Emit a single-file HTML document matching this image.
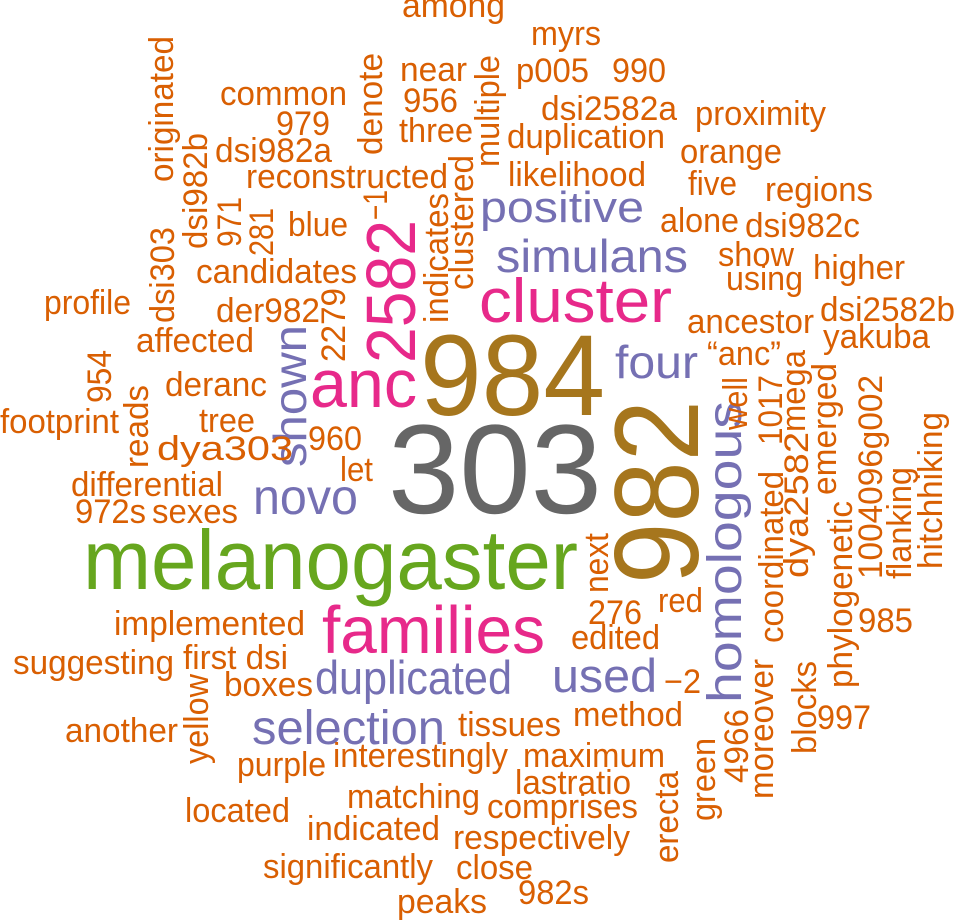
<!DOCTYPE html>
<html><head><meta charset="utf-8"><style>
html,body{margin:0;padding:0;background:#fff;}
svg{display:block;}
text{font-family:"Liberation Sans",Arial,sans-serif;}
.o{fill:#d95f02;font-size:34px;}
.p{fill:#7570b3;}
.k{fill:#e7298a;}
</style></head><body>
<svg width="955" height="922" viewBox="0 0 955 922" xmlns="http://www.w3.org/2000/svg">
<g lengthAdjust="spacingAndGlyphs">
<text x="388" y="513" font-size="127" fill="#666666" textLength="214" lengthAdjust="spacingAndGlyphs">303</text>
<text x="420" y="415" font-size="115" fill="#a6761d" textLength="185" lengthAdjust="spacingAndGlyphs">984</text>
<text transform="translate(698,584) rotate(-90)" font-size="120" fill="#a6761d" textLength="184" lengthAdjust="spacingAndGlyphs">982</text>
<text x="83" y="589" font-size="84" fill="#66a61e" textLength="495" lengthAdjust="spacingAndGlyphs">melanogaster</text>
<text x="322" y="653" font-size="67" class="k" textLength="223" lengthAdjust="spacingAndGlyphs">families</text>
<text x="479" y="322" font-size="62" class="k" textLength="193" lengthAdjust="spacingAndGlyphs">cluster</text>
<text x="310" y="407" font-size="68" class="k" textLength="107" lengthAdjust="spacingAndGlyphs">anc</text>
<text transform="translate(415,363) rotate(-90)" font-size="70" class="k" textLength="143" lengthAdjust="spacingAndGlyphs">2582</text>
<text x="480" y="222" font-size="44" class="p" textLength="164" lengthAdjust="spacingAndGlyphs">positive</text>
<text x="496" y="272" font-size="46" class="p" textLength="192" lengthAdjust="spacingAndGlyphs">simulans</text>
<text x="615" y="378" font-size="46" class="p" textLength="83" lengthAdjust="spacingAndGlyphs">four</text>
<text x="253" y="514" font-size="50" class="p" textLength="105" lengthAdjust="spacingAndGlyphs">novo</text>
<text x="315" y="694" font-size="47" class="p" textLength="197" lengthAdjust="spacingAndGlyphs">duplicated</text>
<text x="252" y="744" font-size="48" class="p" textLength="193" lengthAdjust="spacingAndGlyphs">selection</text>
<text x="552" y="692" font-size="47" class="p" textLength="105" lengthAdjust="spacingAndGlyphs">used</text>
<text transform="translate(741,703) rotate(-90)" font-size="48" class="p" textLength="302" lengthAdjust="spacingAndGlyphs">homologous</text>
<text transform="translate(306,467) rotate(-90)" font-size="46" class="p" textLength="142" lengthAdjust="spacingAndGlyphs">shown</text>

<text class="o" x="402" y="17" textLength="103" lengthAdjust="spacingAndGlyphs">among</text>
<text class="o" x="220" y="105" textLength="127" lengthAdjust="spacingAndGlyphs">common</text>
<text class="o" x="276" y="135" textLength="54" lengthAdjust="spacingAndGlyphs">979</text>
<text class="o" x="215" y="162" textLength="117" lengthAdjust="spacingAndGlyphs">dsi982a</text>
<text class="o" x="246" y="188" textLength="202" lengthAdjust="spacingAndGlyphs">reconstructed</text>
<text class="o" x="400" y="81" textLength="67" lengthAdjust="spacingAndGlyphs">near</text>
<text class="o" x="403" y="112" textLength="55" lengthAdjust="spacingAndGlyphs">956</text>
<text class="o" x="399" y="142" textLength="74" lengthAdjust="spacingAndGlyphs">three</text>
<text class="o" x="288" y="236" textLength="60" lengthAdjust="spacingAndGlyphs">blue</text>
<text class="o" x="196" y="283" textLength="161" lengthAdjust="spacingAndGlyphs">candidates</text>
<text class="o" x="44" y="314" textLength="87" lengthAdjust="spacingAndGlyphs">profile</text>
<text class="o" x="216" y="322" textLength="104" lengthAdjust="spacingAndGlyphs">der982</text>
<text class="o" x="136" y="352" textLength="118" lengthAdjust="spacingAndGlyphs">affected</text>
<text class="o" x="165" y="396" textLength="102" lengthAdjust="spacingAndGlyphs">deranc</text>
<text class="o" x="0" y="433" textLength="119" lengthAdjust="spacingAndGlyphs">footprint</text>
<text class="o" x="199" y="432" textLength="56" lengthAdjust="spacingAndGlyphs">tree</text>
<text class="o" x="157" y="460" textLength="136" lengthAdjust="spacingAndGlyphs">dya303</text>
<text class="o" x="308" y="450" textLength="54" lengthAdjust="spacingAndGlyphs">960</text>

<text class="o" x="531" y="45" textLength="70" lengthAdjust="spacingAndGlyphs">myrs</text>
<text class="o" x="516" y="82" textLength="73" lengthAdjust="spacingAndGlyphs">p005</text>
<text class="o" x="612" y="82" textLength="54" lengthAdjust="spacingAndGlyphs">990</text>
<text class="o" x="541" y="120" textLength="136" lengthAdjust="spacingAndGlyphs">dsi2582a</text>
<text class="o" x="695" y="125" textLength="131" lengthAdjust="spacingAndGlyphs">proximity</text>
<text class="o" x="507" y="148" textLength="158" lengthAdjust="spacingAndGlyphs">duplication</text>
<text class="o" x="680" y="163" textLength="102" lengthAdjust="spacingAndGlyphs">orange</text>
<text class="o" x="508" y="186" textLength="138" lengthAdjust="spacingAndGlyphs">likelihood</text>
<text class="o" x="688" y="195" textLength="49" lengthAdjust="spacingAndGlyphs">five</text>
<text class="o" x="765" y="201" textLength="108" lengthAdjust="spacingAndGlyphs">regions</text>
<text class="o" x="660" y="232" textLength="79" lengthAdjust="spacingAndGlyphs">alone</text>
<text class="o" x="745" y="237" textLength="115" lengthAdjust="spacingAndGlyphs">dsi982c</text>
<text class="o" x="718" y="266" textLength="76" lengthAdjust="spacingAndGlyphs">show</text>
<text class="o" x="726" y="290" textLength="77" lengthAdjust="spacingAndGlyphs">using</text>
<text class="o" x="813" y="279" textLength="92" lengthAdjust="spacingAndGlyphs">higher</text>
<text class="o" x="820" y="321" textLength="135" lengthAdjust="spacingAndGlyphs">dsi2582b</text>
<text class="o" x="687" y="333" textLength="127" lengthAdjust="spacingAndGlyphs">ancestor</text>
<text class="o" x="823" y="348" textLength="107" lengthAdjust="spacingAndGlyphs">yakuba</text>
<text class="o" x="707" y="365" textLength="74" lengthAdjust="spacingAndGlyphs">“anc”</text>

<text class="o" x="588" y="624" textLength="54" lengthAdjust="spacingAndGlyphs">276</text>
<text class="o" x="658" y="612" textLength="45" lengthAdjust="spacingAndGlyphs">red</text>
<text class="o" x="571" y="649" textLength="89" lengthAdjust="spacingAndGlyphs">edited</text>
<text class="o" x="664" y="693" textLength="37" lengthAdjust="spacingAndGlyphs">−2</text>
<text class="o" x="573" y="726" textLength="110" lengthAdjust="spacingAndGlyphs">method</text>
<text class="o" x="458" y="736" textLength="103" lengthAdjust="spacingAndGlyphs">tissues</text>
<text class="o" x="523" y="767" textLength="142" lengthAdjust="spacingAndGlyphs">maximum</text>
<text class="o" x="817" y="729" textLength="54" lengthAdjust="spacingAndGlyphs">997</text>
<text class="o" x="858" y="632" textLength="55" lengthAdjust="spacingAndGlyphs">985</text>
<text class="o" x="515" y="794" textLength="116" lengthAdjust="spacingAndGlyphs">lastratio</text>
<text class="o" x="487" y="818" textLength="151" lengthAdjust="spacingAndGlyphs">comprises</text>
<text class="o" x="453" y="849" textLength="177" lengthAdjust="spacingAndGlyphs">respectively</text>
<text class="o" x="456" y="879" textLength="77" lengthAdjust="spacingAndGlyphs">close</text>
<text class="o" x="518" y="904" textLength="71" lengthAdjust="spacingAndGlyphs">982s</text>
<text class="o" x="397" y="913" textLength="90" lengthAdjust="spacingAndGlyphs">peaks</text>

<text class="o" x="340" y="481" textLength="33" lengthAdjust="spacingAndGlyphs">let</text>
<text class="o" x="71" y="496" textLength="152" lengthAdjust="spacingAndGlyphs">differential</text>
<text class="o" x="75" y="523" textLength="71" lengthAdjust="spacingAndGlyphs">972s</text>
<text class="o" x="152" y="523" textLength="86" lengthAdjust="spacingAndGlyphs">sexes</text>
<text class="o" x="114" y="635" textLength="191" lengthAdjust="spacingAndGlyphs">implemented</text>
<text class="o" x="13" y="674" textLength="161" lengthAdjust="spacingAndGlyphs">suggesting</text>
<text class="o" x="183" y="669" textLength="105" lengthAdjust="spacingAndGlyphs">first dsi</text>
<text class="o" x="224" y="696" textLength="89" lengthAdjust="spacingAndGlyphs">boxes</text>
<text class="o" x="65" y="742" textLength="113" lengthAdjust="spacingAndGlyphs">another</text>
<text class="o" x="237" y="776" textLength="89" lengthAdjust="spacingAndGlyphs">purple</text>
<text class="o" x="333" y="767" textLength="175" lengthAdjust="spacingAndGlyphs">interestingly</text>
<text class="o" x="347" y="808" textLength="133" lengthAdjust="spacingAndGlyphs">matching</text>
<text class="o" x="185" y="822" textLength="105" lengthAdjust="spacingAndGlyphs">located</text>
<text class="o" x="307" y="840" textLength="133" lengthAdjust="spacingAndGlyphs">indicated</text>
<text class="o" x="263" y="878" textLength="170" lengthAdjust="spacingAndGlyphs">significantly</text>

<text class="o" transform="translate(173,182) rotate(-90)" textLength="146" lengthAdjust="spacingAndGlyphs">originated</text>
<text class="o" transform="translate(207,249) rotate(-90)" textLength="116" lengthAdjust="spacingAndGlyphs">dsi982b</text>
<text class="o" transform="translate(174,323) rotate(-90)" textLength="96" lengthAdjust="spacingAndGlyphs">dsi303</text>
<text class="o" transform="translate(241,247) rotate(-90)" textLength="50" lengthAdjust="spacingAndGlyphs">971</text>
<text class="o" transform="translate(273,256) rotate(-90)" textLength="48" lengthAdjust="spacingAndGlyphs">281</text>
<text class="o" transform="translate(382,155) rotate(-90)" textLength="102" lengthAdjust="spacingAndGlyphs">denote</text>
<text class="o" transform="translate(387,220) rotate(-90)" textLength="30" lengthAdjust="spacingAndGlyphs">−1</text>
<text class="o" transform="translate(345,362) rotate(-90)" textLength="74" lengthAdjust="spacingAndGlyphs">2279</text>
<text class="o" transform="translate(111,403) rotate(-90)" textLength="53" lengthAdjust="spacingAndGlyphs">954</text>
<text class="o" transform="translate(148,468) rotate(-90)" textLength="83" lengthAdjust="spacingAndGlyphs">reads</text>
<text class="o" transform="translate(448,323) rotate(-90)" textLength="130" lengthAdjust="spacingAndGlyphs">indicates</text>
<text class="o" transform="translate(473,290) rotate(-90)" textLength="135" lengthAdjust="spacingAndGlyphs">clustered</text>
<text class="o" transform="translate(499,167) rotate(-90)" textLength="112" lengthAdjust="spacingAndGlyphs">multiple</text>
<text class="o" transform="translate(747,430) rotate(-90)" textLength="53" lengthAdjust="spacingAndGlyphs">well</text>
<text class="o" transform="translate(782,445) rotate(-90)" textLength="70" lengthAdjust="spacingAndGlyphs">1017</text>
<text class="o" transform="translate(805,432) rotate(-90)" textLength="82" lengthAdjust="spacingAndGlyphs">mega</text>
<text class="o" transform="translate(808,578) rotate(-90)" textLength="146" lengthAdjust="spacingAndGlyphs">dya2582</text>
<text class="o" transform="translate(783,643) rotate(-90)" textLength="172" lengthAdjust="spacingAndGlyphs">coordinated</text>
<text class="o" transform="translate(836,495) rotate(-90)" textLength="132" lengthAdjust="spacingAndGlyphs">emerged</text>
<text class="o" transform="translate(852,688) rotate(-90)" textLength="187" lengthAdjust="spacingAndGlyphs">phylogenetic</text>
<text class="o" transform="translate(882,579) rotate(-90)" textLength="204" lengthAdjust="spacingAndGlyphs">1004096g002</text>
<text class="o" transform="translate(911,579) rotate(-90)" textLength="112" lengthAdjust="spacingAndGlyphs">flanking</text>
<text class="o" transform="translate(942,569) rotate(-90)" textLength="157" lengthAdjust="spacingAndGlyphs">hitchhiking</text>
<text class="o" transform="translate(608,593) rotate(-90)" textLength="60" lengthAdjust="spacingAndGlyphs">next</text>
<text class="o" transform="translate(773,799) rotate(-90)" textLength="140" lengthAdjust="spacingAndGlyphs">moreover</text>
<text class="o" transform="translate(748,783) rotate(-90)" textLength="74" lengthAdjust="spacingAndGlyphs">4966</text>
<text class="o" transform="translate(816,754) rotate(-90)" textLength="93" lengthAdjust="spacingAndGlyphs">blocks</text>
<text class="o" transform="translate(715,821) rotate(-90)" textLength="83" lengthAdjust="spacingAndGlyphs">green</text>
<text class="o" transform="translate(678,863) rotate(-90)" textLength="92" lengthAdjust="spacingAndGlyphs">erecta</text>
<text class="o" transform="translate(208,764) rotate(-90)" textLength="90" lengthAdjust="spacingAndGlyphs">yellow</text>
</g>
</svg>
</body></html>
